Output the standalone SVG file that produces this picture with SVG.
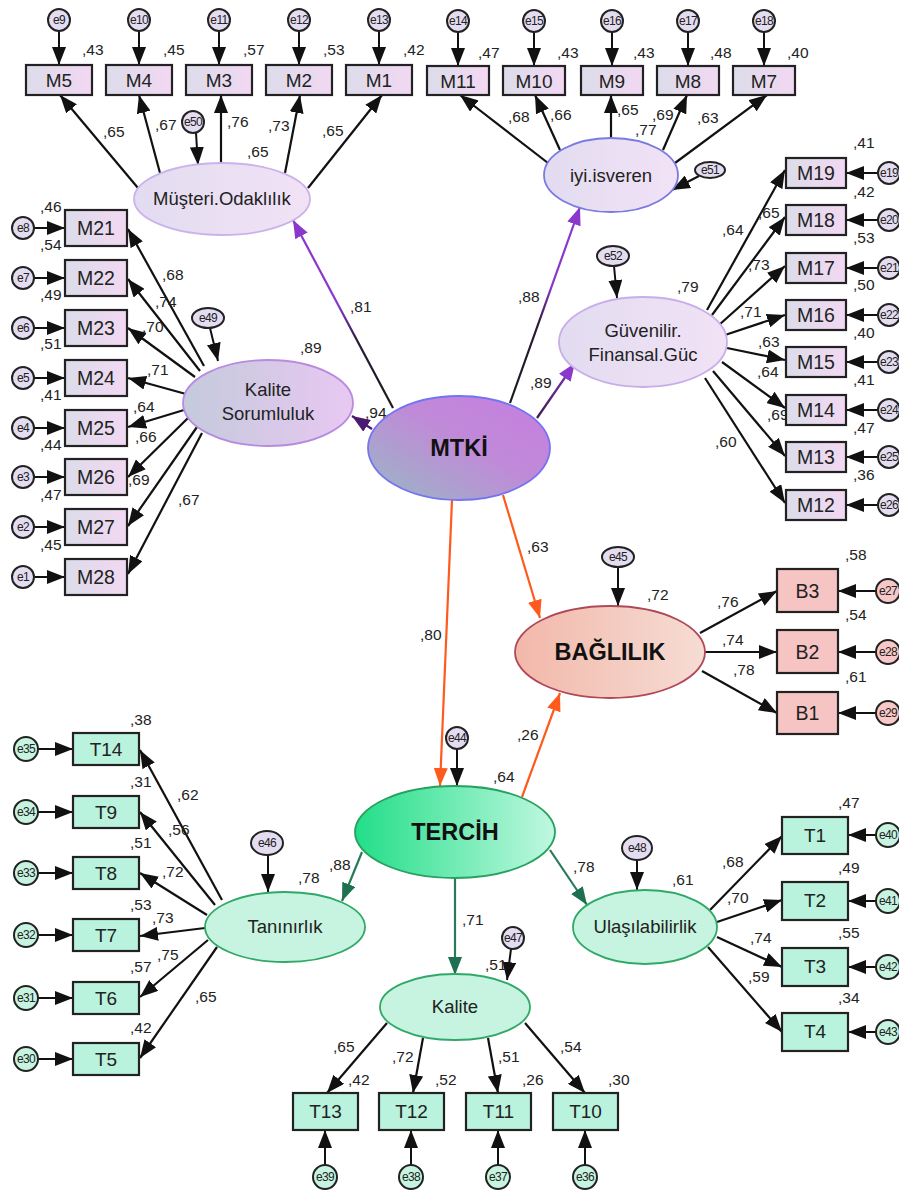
<svg xmlns="http://www.w3.org/2000/svg" width="899" height="1191" viewBox="0 0 899 1191">
<defs>
<style>
text{font-family:"Liberation Sans",Arial,sans-serif;fill:#222}
.n{font-size:15.5px}
.bx{stroke:#222;stroke-width:2.2}
.m{fill:url(#gm)}
.t{fill:#b9f2dd}
.b{fill:#f7c4c4}
.bl{font-size:19px;text-anchor:middle}
.bl2{font-size:19.5px;text-anchor:middle}
.el{font-size:18.5px;text-anchor:middle}
.big{font-size:23.5px;font-weight:bold;text-anchor:middle;fill:#111}
.e{stroke:#222;stroke-width:2}
.em{fill:#e4dcf0}
.et{fill:#c6f4e0}
.eb{fill:#f8c8c8}
.el2{font-size:12px;text-anchor:middle;letter-spacing:-0.6px}
.k{stroke:#111;stroke-width:2.2;fill:none;marker-end:url(#ab)}
.ks{stroke:#111;stroke-width:2;fill:none;marker-end:url(#ab)}
.p{stroke-width:2.2;fill:none}
</style>
<marker id="ab" markerUnits="userSpaceOnUse" markerWidth="18" markerHeight="14" refX="18" refY="7" orient="auto"><path d="M0,0 L18,7 L0,14 z" fill="#111"/></marker>
<marker id="ap" markerUnits="userSpaceOnUse" markerWidth="18" markerHeight="14" refX="18" refY="7" orient="auto"><path d="M0,0 L18,7 L0,14 z" fill="#8a38cc"/></marker>
<marker id="adp" markerUnits="userSpaceOnUse" markerWidth="18" markerHeight="14" refX="18" refY="7" orient="auto"><path d="M0,0 L18,7 L0,14 z" fill="#4a1a72"/></marker>
<marker id="ao" markerUnits="userSpaceOnUse" markerWidth="18" markerHeight="14" refX="18" refY="7" orient="auto"><path d="M0,0 L18,7 L0,14 z" fill="#ff5a1e"/></marker>
<marker id="ag" markerUnits="userSpaceOnUse" markerWidth="18" markerHeight="14" refX="18" refY="7" orient="auto"><path d="M0,0 L18,7 L0,14 z" fill="#1f7050"/></marker>
<linearGradient id="gm" x1="0" y1="0" x2="1" y2="0"><stop offset="0" stop-color="#dcdcea"/><stop offset="1" stop-color="#f2d8f2"/></linearGradient>
<linearGradient id="gmt" x1="0" y1="1" x2="1" y2="0"><stop offset="0" stop-color="#98b8c4"/><stop offset="0.55" stop-color="#c08ad8"/><stop offset="1" stop-color="#c67ee2"/></linearGradient>
<linearGradient id="gmo" x1="0" y1="0" x2="1" y2="0"><stop offset="0" stop-color="#e2dcf0"/><stop offset="1" stop-color="#f2e2f6"/></linearGradient>
<linearGradient id="gks" x1="0" y1="0" x2="1" y2="0"><stop offset="0" stop-color="#c4cadc"/><stop offset="1" stop-color="#e8c8f2"/></linearGradient>
<linearGradient id="gba" x1="0" y1="0" x2="1" y2="0"><stop offset="0" stop-color="#f2b8aa"/><stop offset="1" stop-color="#f6dcd4"/></linearGradient>
<linearGradient id="gte" x1="0" y1="0" x2="1" y2="0"><stop offset="0" stop-color="#22de88"/><stop offset="1" stop-color="#c0f8e0"/></linearGradient>
<linearGradient id="l1" gradientUnits="userSpaceOnUse" x1="393" y1="408" x2="293" y2="220"><stop offset="0" stop-color="#1a1a1a"/><stop offset="0.35" stop-color="#2a1a3a"/><stop offset="0.55" stop-color="#8a38cc"/><stop offset="1" stop-color="#8a38cc"/></linearGradient>
<linearGradient id="l2" gradientUnits="userSpaceOnUse" x1="510" y1="403" x2="580" y2="207"><stop offset="0" stop-color="#1a1a1a"/><stop offset="0.4" stop-color="#2a1a3a"/><stop offset="0.6" stop-color="#8a38cc"/><stop offset="1" stop-color="#8a38cc"/></linearGradient>
<linearGradient id="l3" gradientUnits="userSpaceOnUse" x1="537" y1="418" x2="575" y2="363"><stop offset="0" stop-color="#3a1a4a"/><stop offset="1" stop-color="#8a38cc"/></linearGradient>
</defs>
<rect width="899" height="1191" fill="#fff"/>

<g id="connectors">
<line x1="393" y1="408" x2="293" y2="220" class="p" stroke="url(#l1)" marker-end="url(#ap)"/>
<line x1="510" y1="403" x2="580" y2="207" class="p" stroke="url(#l2)" marker-end="url(#ap)"/>
<line x1="537" y1="418" x2="575" y2="363" class="p" stroke="url(#l3)" marker-end="url(#ap)"/>
<line x1="372" y1="429" x2="352" y2="416" class="p" stroke="#4a1a72" marker-end="url(#adp)"/>
<line x1="503" y1="495" x2="540" y2="618" class="p" stroke="#ff5a1e" marker-end="url(#ao)"/>
<line x1="452" y1="500" x2="440" y2="786" class="p" stroke="#ff5a1e" marker-end="url(#ao)"/>
<line x1="522" y1="797" x2="560" y2="693" class="p" stroke="#ff5a1e" marker-end="url(#ao)"/>
<line x1="362" y1="852" x2="342" y2="901" class="p" stroke="#2a7a5a" marker-end="url(#ag)"/>
<line x1="455" y1="878" x2="455" y2="975" class="p" stroke="#2a7a5a" marker-end="url(#ag)"/>
<line x1="550" y1="850" x2="587" y2="905" class="p" stroke="#2a7a5a" marker-end="url(#ag)"/>
<line x1="138" y1="188" x2="60" y2="95" class="k"/>
<line x1="160" y1="173" x2="139" y2="95" class="k"/>
<line x1="221" y1="163" x2="221" y2="95" class="k"/>
<line x1="285" y1="173" x2="300" y2="95" class="k"/>
<line x1="308" y1="188" x2="382" y2="95" class="k"/>
<line x1="548" y1="163" x2="460" y2="95" class="k"/>
<line x1="560" y1="150" x2="535" y2="95" class="k"/>
<line x1="611" y1="138" x2="611" y2="95" class="k"/>
<line x1="663" y1="150" x2="687" y2="95" class="k"/>
<line x1="675" y1="163" x2="767" y2="95" class="k"/>
<line x1="204" y1="366" x2="128" y2="229" class="k"/>
<line x1="200" y1="371" x2="128" y2="279" class="k"/>
<line x1="195" y1="377" x2="128" y2="328" class="k"/>
<line x1="186" y1="394" x2="128" y2="378" class="k"/>
<line x1="184" y1="410" x2="128" y2="427" class="k"/>
<line x1="188" y1="418" x2="128" y2="477" class="k"/>
<line x1="197" y1="427" x2="128" y2="526" class="k"/>
<line x1="202" y1="433" x2="128" y2="574" class="k"/>
<line x1="707" y1="310" x2="785" y2="170" class="k"/>
<line x1="712" y1="315" x2="785" y2="217" class="k"/>
<line x1="719" y1="325" x2="785" y2="266" class="k"/>
<line x1="725" y1="335" x2="785" y2="315" class="k"/>
<line x1="727" y1="348" x2="785" y2="360" class="k"/>
<line x1="722" y1="362" x2="785" y2="408" class="k"/>
<line x1="713" y1="371" x2="785" y2="456" class="k"/>
<line x1="705" y1="378" x2="785" y2="503" class="k"/>
<line x1="700" y1="633" x2="777" y2="591" class="k"/>
<line x1="705" y1="652" x2="777" y2="652" class="k"/>
<line x1="702" y1="671" x2="777" y2="713" class="k"/>
<line x1="222" y1="900" x2="140" y2="750" class="k"/>
<line x1="215" y1="905" x2="140" y2="812" class="k"/>
<line x1="207" y1="915" x2="140" y2="873" class="k"/>
<line x1="205" y1="928" x2="140" y2="936" class="k"/>
<line x1="208" y1="940" x2="140" y2="997" class="k"/>
<line x1="217" y1="947" x2="140" y2="1058" class="k"/>
<line x1="387" y1="1023" x2="327" y2="1093" class="k"/>
<line x1="423" y1="1038" x2="413" y2="1093" class="k"/>
<line x1="488" y1="1038" x2="498" y2="1093" class="k"/>
<line x1="525" y1="1023" x2="585" y2="1093" class="k"/>
<line x1="710" y1="910" x2="782" y2="836" class="k"/>
<line x1="717" y1="922" x2="782" y2="900" class="k"/>
<line x1="717" y1="937" x2="782" y2="967" class="k"/>
<line x1="708" y1="947" x2="782" y2="1032" class="k"/>
<line x1="59" y1="31" x2="59" y2="65" class="ks"/>
<line x1="139" y1="31" x2="139" y2="65" class="ks"/>
<line x1="219" y1="31" x2="219" y2="65" class="ks"/>
<line x1="299" y1="31" x2="299" y2="65" class="ks"/>
<line x1="379" y1="31" x2="379" y2="65" class="ks"/>
<line x1="458" y1="32" x2="458" y2="66" class="ks"/>
<line x1="534" y1="32" x2="534" y2="66" class="ks"/>
<line x1="612" y1="32" x2="612" y2="66" class="ks"/>
<line x1="688" y1="32" x2="688" y2="66" class="ks"/>
<line x1="764" y1="32" x2="764" y2="66" class="ks"/>
<line x1="34" y1="228" x2="65" y2="228" class="ks"/>
<line x1="34" y1="278" x2="65" y2="278" class="ks"/>
<line x1="34" y1="328" x2="65" y2="328" class="ks"/>
<line x1="34" y1="378" x2="65" y2="378" class="ks"/>
<line x1="34" y1="428" x2="65" y2="428" class="ks"/>
<line x1="34" y1="477" x2="65" y2="477" class="ks"/>
<line x1="34" y1="527" x2="65" y2="527" class="ks"/>
<line x1="34" y1="577" x2="65" y2="577" class="ks"/>
<line x1="878" y1="173" x2="846" y2="173" class="ks"/>
<line x1="878" y1="220" x2="846" y2="220" class="ks"/>
<line x1="878" y1="268" x2="846" y2="268" class="ks"/>
<line x1="878" y1="315" x2="846" y2="315" class="ks"/>
<line x1="878" y1="362" x2="846" y2="362" class="ks"/>
<line x1="878" y1="410" x2="846" y2="410" class="ks"/>
<line x1="878" y1="457" x2="846" y2="457" class="ks"/>
<line x1="878" y1="505" x2="846" y2="505" class="ks"/>
<line x1="876" y1="591" x2="838" y2="591" class="ks"/>
<line x1="876" y1="652" x2="838" y2="652" class="ks"/>
<line x1="876" y1="713" x2="838" y2="713" class="ks"/>
<line x1="38" y1="749" x2="73" y2="749" class="ks"/>
<line x1="38" y1="812" x2="73" y2="812" class="ks"/>
<line x1="38" y1="873" x2="73" y2="873" class="ks"/>
<line x1="38" y1="935" x2="73" y2="935" class="ks"/>
<line x1="38" y1="998" x2="73" y2="998" class="ks"/>
<line x1="38" y1="1059" x2="73" y2="1059" class="ks"/>
<line x1="325" y1="1165" x2="325" y2="1130" class="ks"/>
<line x1="411" y1="1165" x2="411" y2="1130" class="ks"/>
<line x1="498" y1="1165" x2="498" y2="1130" class="ks"/>
<line x1="585" y1="1165" x2="585" y2="1130" class="ks"/>
<line x1="876" y1="835" x2="848" y2="835" class="ks"/>
<line x1="876" y1="901" x2="848" y2="901" class="ks"/>
<line x1="876" y1="967" x2="848" y2="967" class="ks"/>
<line x1="876" y1="1032" x2="848" y2="1032" class="ks"/>
<line x1="196" y1="133" x2="198" y2="165" class="ks"/>
<line x1="699" y1="176" x2="672" y2="190" class="ks"/>
<line x1="210" y1="328" x2="218" y2="361" class="ks"/>
<line x1="614" y1="266" x2="617" y2="298" class="ks"/>
<line x1="618" y1="567" x2="618" y2="606" class="ks"/>
<line x1="457" y1="749" x2="457" y2="786" class="ks"/>
<line x1="268" y1="855" x2="268" y2="892" class="ks"/>
<line x1="511" y1="949" x2="507" y2="980" class="ks"/>
<line x1="637" y1="860" x2="637" y2="890" class="ks"/>
</g>

<g id="loadings">
<text class="n" x="350" y="312">,81</text>
<text class="n" x="518" y="302">,88</text>
<text class="n" x="530" y="388">,89</text>
<text class="n" x="365" y="418">,94</text>
<text class="n" x="527" y="552">,63</text>
<text class="n" x="420" y="640">,80</text>
<text class="n" x="517" y="740">,26</text>
<text class="n" x="329" y="870">,88</text>
<text class="n" x="462" y="925">,71</text>
<text class="n" x="573" y="872">,78</text>
<text class="n" x="103" y="137">,65</text>
<text class="n" x="155" y="130">,67</text>
<text class="n" x="227" y="127">,76</text>
<text class="n" x="268" y="131">,73</text>
<text class="n" x="322" y="136">,65</text>
<text class="n" x="508" y="122">,68</text>
<text class="n" x="550" y="120">,66</text>
<text class="n" x="617" y="115">,65</text>
<text class="n" x="635" y="135">,77</text>
<text class="n" x="652" y="120">,69</text>
<text class="n" x="697" y="123">,63</text>
<text class="n" x="162" y="280">,68</text>
<text class="n" x="155" y="307">,74</text>
<text class="n" x="142" y="332">,70</text>
<text class="n" x="147" y="375">,71</text>
<text class="n" x="133" y="412">,64</text>
<text class="n" x="135" y="442">,66</text>
<text class="n" x="128" y="485">,69</text>
<text class="n" x="178" y="505">,67</text>
<text class="n" x="722" y="235">,64</text>
<text class="n" x="758" y="218">,65</text>
<text class="n" x="748" y="270">,73</text>
<text class="n" x="740" y="317">,71</text>
<text class="n" x="758" y="347">,63</text>
<text class="n" x="757" y="377">,64</text>
<text class="n" x="767" y="420">,69</text>
<text class="n" x="715" y="447">,60</text>
<text class="n" x="717" y="607">,76</text>
<text class="n" x="722" y="645">,74</text>
<text class="n" x="733" y="675">,78</text>
<text class="n" x="177" y="800">,62</text>
<text class="n" x="168" y="835">,56</text>
<text class="n" x="162" y="877">,72</text>
<text class="n" x="152" y="923">,73</text>
<text class="n" x="157" y="960">,75</text>
<text class="n" x="195" y="1002">,65</text>
<text class="n" x="333" y="1052">,65</text>
<text class="n" x="392" y="1062">,72</text>
<text class="n" x="498" y="1062">,51</text>
<text class="n" x="560" y="1052">,54</text>
<text class="n" x="722" y="867">,68</text>
<text class="n" x="727" y="903">,70</text>
<text class="n" x="750" y="943">,74</text>
<text class="n" x="748" y="982">,59</text>
</g>

<g id="MTKI">
<ellipse cx="459" cy="448" rx="91" ry="52" fill="url(#gmt)" stroke="#7474f0" stroke-width="1.8"/>
<text class="big" x="459" y="456">MTKİ</text>
</g>

<g id="Musteri">
<ellipse cx="222" cy="199" rx="88" ry="36" fill="url(#gmo)" stroke="#cbb2ea" stroke-width="1.8"/>
<text class="el" x="222" y="205">Müşteri.Odaklılık</text>
<text class="n" x="247" y="157">,65</text>
<circle class="e em" cx="193" cy="122" r="11"/><text class="el2" x="193" y="126">e50</text>
</g>

<g id="iyi">
<ellipse cx="611" cy="175" rx="67" ry="37" fill="url(#gmo)" stroke="#7a7ae2" stroke-width="1.8"/>
<text class="el" x="611" y="182">iyi.isveren</text>
<ellipse class="e em" cx="710" cy="170" rx="15" ry="8"/><text class="el2" x="710" y="174">e51</text>
</g>

<g id="KaliteSorumluluk">
<ellipse cx="268" cy="403" rx="85" ry="43" fill="url(#gks)" stroke="#b88ae0" stroke-width="1.8"/>
<text class="el" x="268" y="396">Kalite</text>
<text class="el" x="268" y="420">Sorumluluk</text>
<text class="n" x="300" y="353">,89</text>
<ellipse class="e em" cx="208" cy="318" rx="16" ry="10"/><text class="el2" x="208" y="322">e49</text>
</g>

<g id="Guvenilir">
<ellipse cx="643" cy="342" rx="84" ry="45" fill="url(#gmo)" stroke="#c8aee8" stroke-width="1.8"/>
<text class="el" x="643" y="337">Güvenilir.</text>
<text class="el" x="643" y="361">Finansal.Güc</text>
<text class="n" x="677" y="292">,79</text>
<ellipse class="e em" cx="613" cy="256" rx="16" ry="10"/><text class="el2" x="613" y="260">e52</text>
</g>

<g id="BAGLILIK">
<ellipse cx="610" cy="652" rx="95" ry="46" fill="url(#gba)" stroke="#b04858" stroke-width="1.8"/>
<text class="big" x="610" y="660">BAĞLILIK</text>
<text class="n" x="647" y="600">,72</text>
<ellipse class="e em" cx="618" cy="557" rx="16" ry="10"/><text class="el2" x="618" y="561">e45</text>
</g>

<g id="TERCIH">
<ellipse cx="455" cy="832" rx="100" ry="46" fill="url(#gte)" stroke="#28a060" stroke-width="1.8"/>
<text class="big" x="455" y="840">TERCİH</text>
<text class="n" x="493" y="782">,64</text>
<circle class="e em" cx="457" cy="738" r="11"/><text class="el2" x="457" y="742">e44</text>
</g>

<g id="Taninirlik">
<ellipse cx="285" cy="927" rx="80" ry="35" fill="#c6f4e0" stroke="#30a868" stroke-width="1.8"/>
<text class="el" x="285" y="933">Tanınırlık</text>
<text class="n" x="298" y="883">,78</text>
<ellipse class="e em" cx="267" cy="843" rx="16" ry="12"/><text class="el2" x="267" y="847">e46</text>
</g>

<g id="Kalite">
<ellipse cx="455" cy="1007" rx="75" ry="33" fill="#c6f4e0" stroke="#30a868" stroke-width="1.8"/>
<text class="el" x="455" y="1013">Kalite</text>
<text class="n" x="485" y="970">,51</text>
<circle class="e em" cx="513" cy="938" r="11"/><text class="el2" x="513" y="942">e47</text>
</g>

<g id="Ulasilabilirlik">
<ellipse cx="645" cy="927" rx="72" ry="37" fill="#c6f4e0" stroke="#30a868" stroke-width="1.8"/>
<text class="el" x="645" y="933">Ulaşılabilirlik</text>
<text class="n" x="672" y="885">,61</text>
<ellipse class="e em" cx="637" cy="848" rx="15" ry="12"/><text class="el2" x="637" y="852">e48</text>
</g>

<g id="M5"><rect class="bx m" x="26" y="65" width="66" height="30"/><text class="bl" x="59" y="87">M5</text><text class="n" x="82" y="55">,43</text><circle class="e em" cx="59" cy="20" r="11"/><text class="el2" x="59" y="24">e9</text></g>
<g id="M4"><rect class="bx m" x="106" y="65" width="66" height="30"/><text class="bl" x="139" y="87">M4</text><text class="n" x="163" y="55">,45</text><circle class="e em" cx="139" cy="20" r="11"/><text class="el2" x="139" y="24">e10</text></g>
<g id="M3"><rect class="bx m" x="186" y="65" width="66" height="30"/><text class="bl" x="219" y="87">M3</text><text class="n" x="243" y="55">,57</text><circle class="e em" cx="219" cy="20" r="11"/><text class="el2" x="219" y="24">e11</text></g>
<g id="M2"><rect class="bx m" x="266" y="65" width="66" height="30"/><text class="bl" x="299" y="87">M2</text><text class="n" x="323" y="55">,53</text><circle class="e em" cx="299" cy="20" r="11"/><text class="el2" x="299" y="24">e12</text></g>
<g id="M1"><rect class="bx m" x="346" y="65" width="66" height="30"/><text class="bl" x="379" y="87">M1</text><text class="n" x="403" y="55">,42</text><circle class="e em" cx="379" cy="20" r="11"/><text class="el2" x="379" y="24">e13</text></g>

<g id="M11"><rect class="bx m" x="427" y="66" width="62" height="29"/><text class="bl" x="458" y="88">M11</text><text class="n" x="478" y="58">,47</text><circle class="e em" cx="458" cy="21" r="11"/><text class="el2" x="458" y="25">e14</text></g>
<g id="M10"><rect class="bx m" x="503" y="66" width="62" height="29"/><text class="bl" x="534" y="88">M10</text><text class="n" x="557" y="58">,43</text><circle class="e em" cx="534" cy="21" r="11"/><text class="el2" x="534" y="25">e15</text></g>
<g id="M9"><rect class="bx m" x="581" y="66" width="62" height="29"/><text class="bl" x="612" y="88">M9</text><text class="n" x="633" y="58">,43</text><circle class="e em" cx="612" cy="21" r="11"/><text class="el2" x="612" y="25">e16</text></g>
<g id="M8"><rect class="bx m" x="657" y="66" width="62" height="29"/><text class="bl" x="688" y="88">M8</text><text class="n" x="710" y="58">,48</text><circle class="e em" cx="688" cy="21" r="11"/><text class="el2" x="688" y="25">e17</text></g>
<g id="M7"><rect class="bx m" x="733" y="66" width="62" height="29"/><text class="bl" x="764" y="88">M7</text><text class="n" x="787" y="58">,40</text><circle class="e em" cx="764" cy="21" r="11"/><text class="el2" x="764" y="25">e18</text></g>

<g id="M21"><rect class="bx m" x="65" y="210" width="62" height="36"/><text class="bl2" x="96" y="235">M21</text><text class="n" x="40" y="212">,46</text><circle class="e em" cx="23" cy="228" r="11"/><text class="el2" x="23" y="232">e8</text></g>
<g id="M22"><rect class="bx m" x="65" y="260" width="62" height="36"/><text class="bl2" x="96" y="285">M22</text><text class="n" x="40" y="250">,54</text><circle class="e em" cx="23" cy="278" r="11"/><text class="el2" x="23" y="282">e7</text></g>
<g id="M23"><rect class="bx m" x="65" y="310" width="62" height="36"/><text class="bl2" x="96" y="335">M23</text><text class="n" x="40" y="300">,49</text><circle class="e em" cx="23" cy="328" r="11"/><text class="el2" x="23" y="332">e6</text></g>
<g id="M24"><rect class="bx m" x="65" y="360" width="62" height="36"/><text class="bl2" x="96" y="385">M24</text><text class="n" x="40" y="349">,51</text><circle class="e em" cx="23" cy="378" r="11"/><text class="el2" x="23" y="382">e5</text></g>
<g id="M25"><rect class="bx m" x="65" y="410" width="62" height="36"/><text class="bl2" x="96" y="435">M25</text><text class="n" x="40" y="400">,41</text><circle class="e em" cx="23" cy="428" r="11"/><text class="el2" x="23" y="432">e4</text></g>
<g id="M26"><rect class="bx m" x="65" y="459" width="62" height="36"/><text class="bl2" x="96" y="484">M26</text><text class="n" x="40" y="450">,44</text><circle class="e em" cx="23" cy="477" r="11"/><text class="el2" x="23" y="481">e3</text></g>
<g id="M27"><rect class="bx m" x="65" y="509" width="62" height="36"/><text class="bl2" x="96" y="534">M27</text><text class="n" x="40" y="500">,47</text><circle class="e em" cx="23" cy="527" r="11"/><text class="el2" x="23" y="531">e2</text></g>
<g id="M28"><rect class="bx m" x="65" y="559" width="62" height="36"/><text class="bl2" x="96" y="584">M28</text><text class="n" x="40" y="550">,45</text><circle class="e em" cx="23" cy="577" r="11"/><text class="el2" x="23" y="581">e1</text></g>

<g id="M19"><rect class="bx m" x="786" y="158" width="60" height="30"/><text class="bl2" x="816" y="180">M19</text><text class="n" x="853" y="148">,41</text><circle class="e em" cx="889" cy="173" r="11"/><text class="el2" x="889" y="177">e19</text></g>
<g id="M18"><rect class="bx m" x="786" y="205" width="60" height="30"/><text class="bl2" x="816" y="227">M18</text><text class="n" x="853" y="197">,42</text><circle class="e em" cx="889" cy="220" r="11"/><text class="el2" x="889" y="224">e20</text></g>
<g id="M17"><rect class="bx m" x="786" y="253" width="60" height="30"/><text class="bl2" x="816" y="275">M17</text><text class="n" x="853" y="243">,53</text><circle class="e em" cx="889" cy="268" r="11"/><text class="el2" x="889" y="272">e21</text></g>
<g id="M16"><rect class="bx m" x="786" y="300" width="60" height="30"/><text class="bl2" x="816" y="322">M16</text><text class="n" x="853" y="290">,50</text><circle class="e em" cx="889" cy="315" r="11"/><text class="el2" x="889" y="319">e22</text></g>
<g id="M15"><rect class="bx m" x="786" y="347" width="60" height="30"/><text class="bl2" x="816" y="369">M15</text><text class="n" x="853" y="338">,40</text><circle class="e em" cx="889" cy="362" r="11"/><text class="el2" x="889" y="366">e23</text></g>
<g id="M14"><rect class="bx m" x="786" y="395" width="60" height="30"/><text class="bl2" x="816" y="417">M14</text><text class="n" x="853" y="385">,41</text><circle class="e em" cx="889" cy="410" r="11"/><text class="el2" x="889" y="414">e24</text></g>
<g id="M13"><rect class="bx m" x="786" y="442" width="60" height="30"/><text class="bl2" x="816" y="464">M13</text><text class="n" x="853" y="433">,47</text><circle class="e em" cx="889" cy="457" r="11"/><text class="el2" x="889" y="461">e25</text></g>
<g id="M12"><rect class="bx m" x="786" y="490" width="60" height="30"/><text class="bl2" x="816" y="512">M12</text><text class="n" x="853" y="480">,36</text><circle class="e em" cx="889" cy="505" r="11"/><text class="el2" x="889" y="509">e26</text></g>

<g id="B3"><rect class="bx b" x="777" y="569" width="61" height="43"/><text class="bl2" x="807.5" y="598">B3</text><text class="n" x="845" y="560">,58</text><circle class="e eb" cx="888" cy="591" r="12"/><text class="el2" x="888" y="595">e27</text></g>
<g id="B2"><rect class="bx b" x="777" y="630" width="61" height="43"/><text class="bl2" x="807.5" y="659">B2</text><text class="n" x="845" y="620">,54</text><circle class="e eb" cx="888" cy="652" r="12"/><text class="el2" x="888" y="656">e28</text></g>
<g id="B1"><rect class="bx b" x="777" y="692" width="61" height="42"/><text class="bl2" x="807.5" y="720">B1</text><text class="n" x="845" y="682">,61</text><circle class="e eb" cx="888" cy="713" r="12"/><text class="el2" x="888" y="717">e29</text></g>

<g id="T14"><rect class="bx t" x="73" y="733" width="66" height="32"/><text class="bl" x="106" y="756">T14</text><text class="n" x="130" y="725">,38</text><circle class="e et" cx="26" cy="749" r="12"/><text class="el2" x="26" y="753">e35</text></g>
<g id="T9"><rect class="bx t" x="73" y="796" width="66" height="32"/><text class="bl" x="106" y="819">T9</text><text class="n" x="130" y="787">,31</text><circle class="e et" cx="26" cy="812" r="12"/><text class="el2" x="26" y="816">e34</text></g>
<g id="T8"><rect class="bx t" x="73" y="857" width="66" height="32"/><text class="bl" x="106" y="880">T8</text><text class="n" x="130" y="848">,51</text><circle class="e et" cx="26" cy="873" r="12"/><text class="el2" x="26" y="877">e33</text></g>
<g id="T7"><rect class="bx t" x="73" y="919" width="66" height="32"/><text class="bl" x="106" y="942">T7</text><text class="n" x="130" y="910">,53</text><circle class="e et" cx="26" cy="935" r="12"/><text class="el2" x="26" y="939">e32</text></g>
<g id="T6"><rect class="bx t" x="73" y="982" width="66" height="32"/><text class="bl" x="106" y="1005">T6</text><text class="n" x="130" y="972">,57</text><circle class="e et" cx="26" cy="998" r="12"/><text class="el2" x="26" y="1002">e31</text></g>
<g id="T5"><rect class="bx t" x="73" y="1043" width="66" height="32"/><text class="bl" x="106" y="1066">T5</text><text class="n" x="130" y="1033">,42</text><circle class="e et" cx="26" cy="1059" r="12"/><text class="el2" x="26" y="1063">e30</text></g>

<g id="T13"><rect class="bx t" x="293" y="1093" width="65" height="37"/><text class="bl" x="325.5" y="1118">T13</text><text class="n" x="348" y="1085">,42</text><circle class="e et" cx="325" cy="1177" r="12"/><text class="el2" x="325" y="1181">e39</text></g>
<g id="T12"><rect class="bx t" x="379" y="1093" width="65" height="37"/><text class="bl" x="411.5" y="1118">T12</text><text class="n" x="435" y="1085">,52</text><circle class="e et" cx="411" cy="1177" r="12"/><text class="el2" x="411" y="1181">e38</text></g>
<g id="T11"><rect class="bx t" x="466" y="1093" width="65" height="37"/><text class="bl" x="498.5" y="1118">T11</text><text class="n" x="522" y="1085">,26</text><circle class="e et" cx="498" cy="1177" r="12"/><text class="el2" x="498" y="1181">e37</text></g>
<g id="T10"><rect class="bx t" x="553" y="1093" width="65" height="37"/><text class="bl" x="585.5" y="1118">T10</text><text class="n" x="608" y="1085">,30</text><circle class="e et" cx="585" cy="1177" r="12"/><text class="el2" x="585" y="1181">e36</text></g>

<g id="T1"><rect class="bx t" x="782" y="817" width="66" height="37"/><text class="bl" x="815" y="842">T1</text><text class="n" x="838" y="808">,47</text><circle class="e et" cx="888" cy="835" r="12"/><text class="el2" x="888" y="839">e40</text></g>
<g id="T2"><rect class="bx t" x="782" y="882" width="66" height="38"/><text class="bl" x="815" y="907">T2</text><text class="n" x="838" y="873">,49</text><circle class="e et" cx="888" cy="901" r="12"/><text class="el2" x="888" y="905">e41</text></g>
<g id="T3"><rect class="bx t" x="782" y="948" width="66" height="38"/><text class="bl" x="815" y="973">T3</text><text class="n" x="838" y="938">,55</text><circle class="e et" cx="888" cy="967" r="12"/><text class="el2" x="888" y="971">e42</text></g>
<g id="T4"><rect class="bx t" x="782" y="1013" width="66" height="38"/><text class="bl" x="815" y="1038">T4</text><text class="n" x="838" y="1003">,34</text><circle class="e et" cx="888" cy="1032" r="12"/><text class="el2" x="888" y="1036">e43</text></g>
</svg>
